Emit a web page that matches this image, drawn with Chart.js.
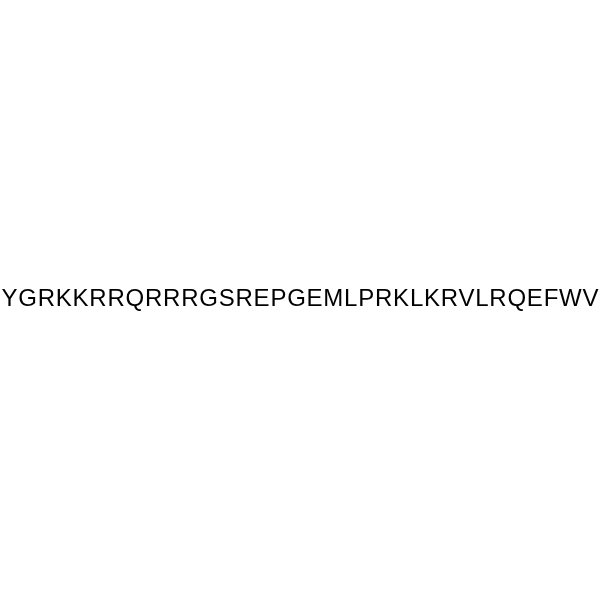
<!DOCTYPE html>
<html>
<head>
<meta charset="utf-8">
<script src="https://cdn.jsdelivr.net/npm/chart.js@4/dist/chart.umd.min.js"></script>
<style>
html,body{margin:0;padding:0;background:#fff;}
#wrap{width:600px;height:600px;position:relative;}
</style>
</head>
<body>
<div id="wrap"><canvas id="c" width="600" height="600"></canvas></div>
<script>
const labels = ['YGRKKRRQRRRGSREPGEMLPRKLKRVLRQEFWV'];
const xValues = [0];
const yValues = [0];

const textPlugin = {
  id: 'seqText',
  afterDraw(chart) {
    const ctx = chart.ctx;
    const xs = chart.scales.x, ys = chart.scales.y;
    ctx.save();
    ctx.fillStyle = '#000';
    ctx.textAlign = 'left';
    ctx.textBaseline = 'alphabetic';
    labels.forEach((t, i) => {
      const size = 24;
      ctx.font = size + 'px "Liberation Sans", Arial, sans-serif';
      ctx.letterSpacing = '0px';
      const w = ctx.measureText(t).width;
      const target = 597;
      const gap = Math.max(0, (target - w) / (t.length - 1));
      ctx.letterSpacing = gap + 'px';
      const cx = xs.getPixelForValue(xValues[i]);
      const cy = ys.getPixelForValue(yValues[i]) + 6;
      ctx.fillText(t, cx - target / 2, cy);
    });
    ctx.restore();
  }
};

new Chart(document.getElementById('c'), {
  type: 'scatter',
  data: { datasets: [{ data: xValues.map((x, i) => ({x, y: yValues[i]})), pointRadius: 0 }] },
  options: {
    responsive: false,
    animation: false,
    layout: { padding: 0 },
    plugins: { legend: { display: false }, tooltip: { enabled: false } },
    scales: {
      x: { display: false, min: -1, max: 1 },
      y: { display: false, min: -1, max: 1 }
    }
  },
  plugins: [textPlugin]
});
</script>
</body>
</html>
